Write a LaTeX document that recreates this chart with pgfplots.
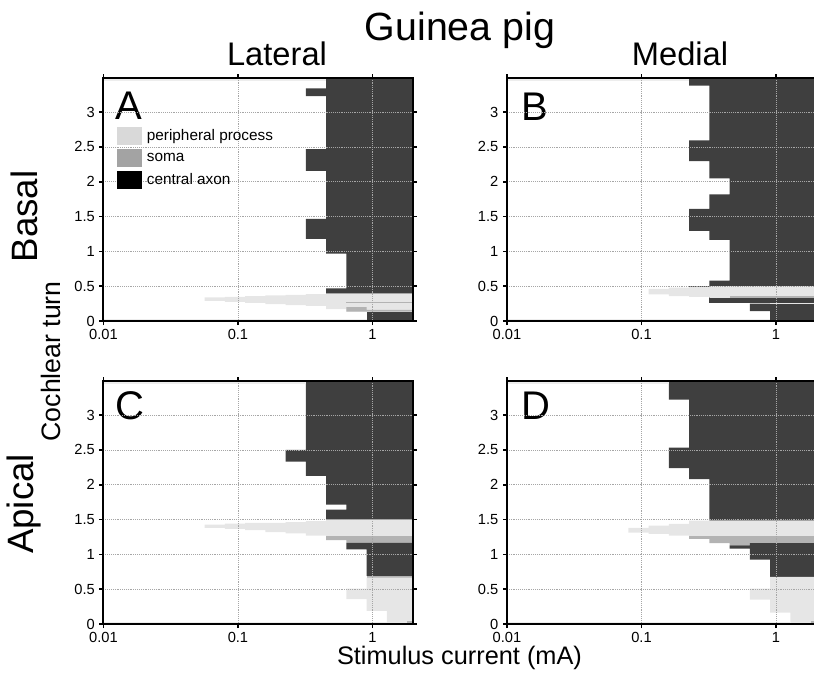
\documentclass[border=0pt]{standalone}
\usepackage{fontspec}
\setmainfont{Liberation Sans}
\usepackage{pgfplots}
\pgfplotsset{compat=1.18}
\definecolor{pp}{HTML}{E6E6E6}
\definecolor{so}{HTML}{B3B3B3}
\definecolor{ca}{HTML}{3F3F3F}
\definecolor{strip}{HTML}{EDEDED}
\definecolor{legpp}{HTML}{D9D9D9}
\definecolor{legso}{HTML}{A3A3A3}
\begin{document}
\begin{tikzpicture}
% ---------------- Panel A ----------------
\begin{axis}[xmode=log, scale only axis, width=232.1pt, height=182.25pt,
    xmin=0.01, xmax=2, ymin=0, ymax=3.49,
    xtick={0.01,0.1,1}, xticklabels={0.01,0.1,1},
    ytick={0,0.5,1,1.5,2,2.5,3}, yticklabels={0,0.5,1,1.5,2,2.5,3},
    xminorticks=false, xmajorgrids, ymajorgrids,
    grid style={densely dotted, black!35, line width=0.6pt},
    axis line style={line width=1.5pt},
    tick style={line width=1.2pt, black}, tick align=outside, major tick length=3pt,
    tick label style={font=\fontsize{11}{13}\selectfont},
    axis on top,
    at={(77.6pt,-240.75pt)}, anchor=south west,
    legend style={at={(0.0426,0.80)}, anchor=north west, draw=none, fill=none,
      inner sep=0pt, row sep=3.2pt, column sep=3pt,
      font=\fontsize{11.5}{13}\selectfont, nodes={inner sep=1pt}},
    legend image post style={xscale=1.06, yscale=2.28},
    legend cell align=left]
\addlegendimage{area legend, fill=legpp, draw=legpp}\addlegendentry{peripheral process}
\addlegendimage{area legend, fill=legso, draw=legso}\addlegendentry{soma}
\addlegendimage{area legend, fill=black, draw=black}\addlegendentry{central axon}
\addplot[fill=ca, draw=none, forget plot] coordinates {(2,3.49) (0.452,3.49) (0.452,3.34) (0.320,3.34) (0.320,3.23) (0.452,3.23) (0.452,2.467) (0.320,2.467) (0.320,2.157) (0.452,2.157) (0.452,1.467) (0.320,1.467) (0.320,1.181) (0.452,1.181) (0.452,0.967) (0.640,0.967) (0.640,0.467) (0.452,0.467) (0.452,0.395) (2,0.395)};
\addplot[fill=ca, draw=none, forget plot] coordinates {(0.905,0) (2,0) (2,0.133) (0.905,0.133)};
\addplot[fill=pp, draw=none, forget plot] coordinates {(2,0.395) (0.452,0.395) (0.452,0.386) (0.320,0.386) (0.320,0.376) (0.226,0.376) (0.226,0.367) (0.160,0.367) (0.160,0.357) (0.113,0.357) (0.113,0.348) (0.080,0.348) (0.080,0.338) (0.0566,0.338) (0.0566,0.290) (0.080,0.290) (0.080,0.276) (0.113,0.276) (0.113,0.262) (0.160,0.262) (0.160,0.243) (0.226,0.243) (0.226,0.229) (0.320,0.229) (0.320,0.219) (0.452,0.219) (0.452,0.171) (0.640,0.171) (0.640,0.133) (2,0.133)};
\addplot[fill=so, draw=none, forget plot] coordinates {(0.640,0.133) (2,0.133) (2,0.160) (0.905,0.160) (0.905,0.200) (0.640,0.200)};
\addplot[fill=so, draw=none, forget plot] coordinates {(0.640,0.252) (2,0.252) (2,0.268) (0.640,0.268)};
\addplot[fill=strip, draw=none, forget plot] coordinates {(0.01,3.44) (0.452,3.44) (0.452,3.49) (0.01,3.49)};
\addplot[fill=strip, draw=none, forget plot] coordinates {(0.01,0) (0.905,0) (0.905,0.025) (0.01,0.025)};
\node[anchor=base west, inner sep=0pt, font=\fontsize{30}{36}\selectfont] at (rel axis cs:0.037,0.831) {A};
\end{axis}
% ---------------- Panel B ----------------
\begin{axis}[xmode=log, scale only axis, width=232.1pt, height=182.25pt,
    xmin=0.01, xmax=2, ymin=0, ymax=3.49,
    xtick={0.01,0.1,1}, xticklabels={0.01,0.1,1},
    ytick={0,0.5,1,1.5,2,2.5,3}, yticklabels={0,0.5,1,1.5,2,2.5,3},
    xminorticks=false, xmajorgrids, ymajorgrids,
    grid style={densely dotted, black!35, line width=0.6pt},
    axis line style={line width=1.5pt},
    tick style={line width=1.2pt, black}, tick align=outside, major tick length=3pt,
    tick label style={font=\fontsize{11}{13}\selectfont},
    axis on top,
    at={(380.25pt,-240.75pt)}, anchor=south west]
\addplot[fill=ca, draw=none, forget plot] coordinates {(2,3.49) (0.226,3.49) (0.226,3.38) (0.320,3.38) (0.320,2.595) (0.226,2.595) (0.226,2.295) (0.320,2.295) (0.320,2.048) (0.452,2.048) (0.452,1.819) (0.320,1.819) (0.320,1.610) (0.226,1.610) (0.226,1.295) (0.320,1.295) (0.320,1.167) (0.452,1.167) (0.452,0.581) (0.320,0.581) (0.320,0.50) (0.226,0.50) (0.226,0.48) (2,0.48)};
\addplot[fill=ca, draw=none, forget plot] coordinates {(0.320,0.262) (2,0.262) (2,0.343) (0.320,0.343)};
\addplot[fill=ca, draw=none, forget plot] coordinates {(0.640,0.143) (0.905,0.143) (0.905,0) (2,0) (2,0.248) (0.640,0.248)};
\addplot[fill=pp, draw=none, forget plot] coordinates {(2,0.50) (0.320,0.50) (0.320,0.490) (0.226,0.490) (0.226,0.481) (0.160,0.481) (0.160,0.462) (0.113,0.462) (0.113,0.381) (0.160,0.381) (0.160,0.357) (0.226,0.357) (0.226,0.348) (0.320,0.348) (0.320,0.333) (2,0.333)};
\addplot[fill=pp, draw=none, forget plot] coordinates {(0.905,0.248) (2,0.248) (2,0.262) (0.905,0.262)};
\addplot[fill=so, draw=none, forget plot] coordinates {(0.452,0.333) (2,0.333) (2,0.36) (0.452,0.36)};
\addplot[fill=strip, draw=none, forget plot] coordinates {(0.01,3.44) (0.226,3.44) (0.226,3.49) (0.01,3.49)};
\addplot[fill=strip, draw=none, forget plot] coordinates {(0.01,0) (0.905,0) (0.905,0.025) (0.01,0.025)};
\node[anchor=base west, inner sep=0pt, font=\fontsize{30}{36}\selectfont] at (rel axis cs:0.047,0.827) {B};
\end{axis}
% ---------------- Panel C ----------------
\begin{axis}[xmode=log, scale only axis, width=232.1pt, height=182.25pt,
    xmin=0.01, xmax=2, ymin=0, ymax=3.49,
    xtick={0.01,0.1,1}, xticklabels={0.01,0.1,1},
    ytick={0,0.5,1,1.5,2,2.5,3}, yticklabels={0,0.5,1,1.5,2,2.5,3},
    xminorticks=false, xmajorgrids, ymajorgrids,
    grid style={densely dotted, black!35, line width=0.6pt},
    axis line style={line width=1.5pt},
    tick style={line width=1.2pt, black}, tick align=outside, major tick length=3pt,
    tick label style={font=\fontsize{11}{13}\selectfont},
    axis on top,
    at={(77.6pt,-468pt)}, anchor=south west]
\addplot[fill=ca, draw=none, forget plot] coordinates {(2,3.49) (0.320,3.49) (0.320,2.5) (0.226,2.5) (0.226,2.333) (0.320,2.333) (0.320,2.129) (0.452,2.129) (0.452,1.714) (0.640,1.714) (0.640,1.643) (0.452,1.643) (0.452,1.50) (2,1.50)};
\addplot[fill=pp, draw=none, forget plot] coordinates {(2,1.50) (0.452,1.50) (0.452,1.476) (0.320,1.476) (0.320,1.462) (0.226,1.462) (0.226,1.452) (0.113,1.452) (0.113,1.443) (0.080,1.443) (0.080,1.429) (0.0566,1.429) (0.0566,1.381) (0.080,1.381) (0.080,1.367) (0.113,1.367) (0.113,1.348) (0.160,1.348) (0.160,1.319) (0.226,1.319) (0.226,1.300) (0.320,1.300) (0.320,1.271) (0.452,1.271) (0.452,1.262) (2,1.262)};
\addplot[fill=so, draw=none, forget plot] coordinates {(0.452,1.262) (2,1.262) (2,1.167) (0.640,1.167) (0.640,1.205) (0.452,1.205)};
\addplot[fill=ca, draw=none, forget plot] coordinates {(2,1.167) (0.640,1.167) (0.640,1.071) (0.905,1.071) (0.905,0.690) (2,0.690)};
\addplot[fill=so, draw=none, forget plot] coordinates {(0.905,0.667) (2,0.667) (2,0.690) (0.905,0.690)};
\addplot[fill=pp, draw=none, forget plot] coordinates {(2,0.667) (0.905,0.667) (0.905,0.510) (0.640,0.510) (0.640,0.357) (0.905,0.357) (0.905,0.190) (1.28,0.190) (1.28,0) (2,0)};
\addplot[fill=so, draw=none, forget plot] coordinates {(1.81,0) (2,0) (2,0.05) (1.81,0.05)};
\addplot[fill=strip, draw=none, forget plot] coordinates {(0.01,3.44) (0.320,3.44) (0.320,3.49) (0.01,3.49)};
\addplot[fill=strip, draw=none, forget plot] coordinates {(0.01,0) (1.28,0) (1.28,0.025) (0.01,0.025)};
\node[anchor=base west, inner sep=0pt, font=\fontsize{30}{36}\selectfont] at (rel axis cs:0.037,0.84) {C};
\end{axis}
% ---------------- Panel D ----------------
\begin{axis}[xmode=log, scale only axis, width=232.1pt, height=182.25pt,
    xmin=0.01, xmax=2, ymin=0, ymax=3.49,
    xtick={0.01,0.1,1}, xticklabels={0.01,0.1,1},
    ytick={0,0.5,1,1.5,2,2.5,3}, yticklabels={0,0.5,1,1.5,2,2.5,3},
    xminorticks=false, xmajorgrids, ymajorgrids,
    grid style={densely dotted, black!35, line width=0.6pt},
    axis line style={line width=1.5pt},
    tick style={line width=1.2pt, black}, tick align=outside, major tick length=3pt,
    tick label style={font=\fontsize{11}{13}\selectfont},
    axis on top,
    at={(380.25pt,-468pt)}, anchor=south west]
\addplot[fill=ca, draw=none, forget plot] coordinates {(2,3.49) (0.160,3.49) (0.160,3.224) (0.226,3.224) (0.226,2.533) (0.160,2.533) (0.160,2.238) (0.226,2.238) (0.226,2.081) (0.320,2.081) (0.320,1.486) (2,1.486)};
\addplot[fill=pp, draw=none, forget plot] coordinates {(2,1.486) (0.226,1.486) (0.226,1.438) (0.160,1.438) (0.160,1.414) (0.113,1.414) (0.113,1.381) (0.080,1.381) (0.080,1.314) (0.113,1.314) (0.113,1.295) (0.160,1.295) (0.160,1.271) (0.226,1.271) (0.226,1.262) (2,1.262)};
\addplot[fill=so, draw=none, forget plot] coordinates {(0.226,1.262) (2,1.262) (2,1.162) (0.640,1.162) (0.640,1.129) (0.452,1.129) (0.452,1.162) (0.320,1.162) (0.320,1.224) (0.226,1.224)};
\addplot[fill=ca, draw=none, forget plot] coordinates {(2,1.162) (0.640,1.162) (0.640,1.129) (0.452,1.129) (0.452,1.081) (0.640,1.081) (0.640,0.924) (0.905,0.924) (0.905,0.676) (2,0.676)};
\addplot[fill=pp, draw=none, forget plot] coordinates {(2,0.676) (0.905,0.676) (0.905,0.510) (0.640,0.510) (0.640,0.352) (0.905,0.352) (0.905,0.162) (1.28,0.162) (1.28,0) (2,0)};
\addplot[fill=so, draw=none, forget plot] coordinates {(1.81,0) (2,0) (2,0.05) (1.81,0.05)};
\addplot[fill=strip, draw=none, forget plot] coordinates {(0.01,3.44) (0.160,3.44) (0.160,3.49) (0.01,3.49)};
\addplot[fill=strip, draw=none, forget plot] coordinates {(0.01,0) (1.28,0) (1.28,0.025) (0.01,0.025)};
\node[anchor=base west, inner sep=0pt, font=\fontsize{30}{36}\selectfont] at (rel axis cs:0.045,0.84) {D};
\end{axis}
% ---------------- Titles and labels ----------------
\node[font=\fontsize{29.5}{35}\selectfont] at (345pt,-23pt) {Guinea pig};
\node[font=\fontsize{24.5}{29}\selectfont] at (207.75pt,-40pt) {Lateral};
\node[font=\fontsize{24.5}{29}\selectfont] at (510pt,-40pt) {Medial};
\node[rotate=90, font=\fontsize{27.5}{33}\selectfont] at (18pt,-162.4pt) {Basal};
\node[rotate=90, font=\fontsize{27.5}{33}\selectfont] at (18pt,-378pt) {Apical};
\node[rotate=90, font=\fontsize{20}{24}\selectfont] at (38.25pt,-271pt) {Cochlear turn};
\node[font=\fontsize{19}{23}\selectfont] at (344.6pt,-493.5pt) {Stimulus current (mA)};
\pgfresetboundingbox
\path[use as bounding box] (0pt,0pt) rectangle (610.5pt,-507pt);
\end{tikzpicture}
\end{document}
